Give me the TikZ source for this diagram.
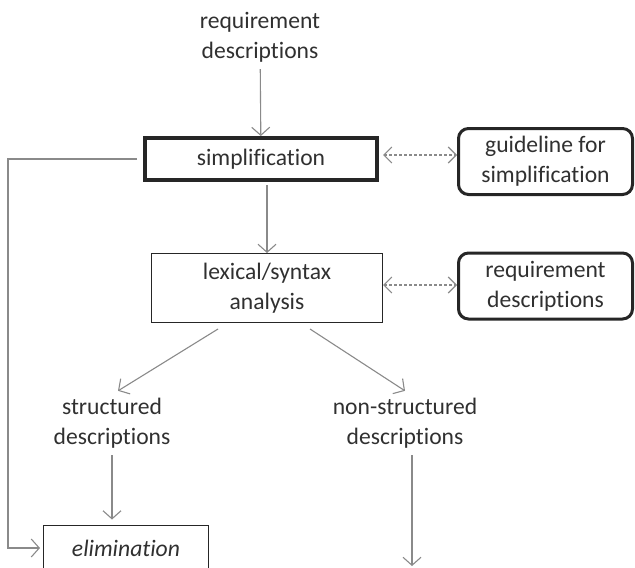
\documentclass[tikz,border=0pt]{standalone}
\usepackage{fontspec}
\setmainfont{Carlito}[Ligatures=CommonOff]
\usetikzlibrary{arrows.meta,calc}
\definecolor{txt}{HTML}{303030}
\definecolor{ln}{HTML}{8A8A8A}
\tikzset{
lbl/.style={align=center,text=txt,font=\fontsize{11.8}{15}\selectfont},
box/.style={lbl,draw=black!85,inner sep=0pt,line width=0.5pt},
rbox/.style={box,line width=1.5pt,rounded corners=5pt,minimum width=87pt,minimum height=33pt},
arr/.style={draw=ln,line width=0.55pt,-{Straight Barb[length=4pt,width=9pt]}},
dasharr/.style={arr,dash pattern=on 1.5pt off 1pt,{Straight Barb[length=4pt,width=8pt]}-{Straight Barb[length=4pt,width=8pt]}}
}
\begin{document}
\begin{tikzpicture}[x=0.5pt,y=-0.5pt]
\useasboundingbox (0,0) rectangle (635,567);
\node[lbl](req) at (260,37){requirement\\descriptions};
\node[box,line width=2pt,minimum width=116pt,minimum height=21pt](simp) at (261,159){simplification};
\node[rbox](guide) at (545.5,161.5){guideline for\\simplification};
\node[box,minimum width=115.5pt,minimum height=34.5pt](lex) at (267,288){lexical/syntax\\analysis};
\node[rbox](reqbox) at (545.5,286){requirement\\descriptions};
\node[lbl](struct) at (112,423){structured\\descriptions};
\node[lbl](nonstruct) at (405,423){non-structured\\descriptions};
\node[box,minimum width=82.5pt,minimum height=23pt,font=\fontsize{11.8}{15}\selectfont\itshape](elim) at (126,548){elimination};
\coordinate (rail) at (8,0);
\coordinate (nsend) at (412,566);
\draw[arr](req)--(simp);
\draw[arr,shorten <=1.5pt]([xshift=3pt]simp.south)--([xshift=3pt]simp.south|-lex.north);
\draw[arr]($(lex.south)+(-49,6)$)--([xshift=3pt]struct.north);
\draw[arr]($(lex.south)+(43,6)$)--(nonstruct.north);
\draw[arr](struct.south)--([yshift=2.5pt]struct.south|-elim.north);
\draw[arr]([xshift=3.5pt]nonstruct.south)--(nsend);
\draw[arr,shorten <=3pt,shorten >=1.5pt](simp.west)--(simp.west-|rail)|-(elim.west);
\draw[dasharr,shorten <=2pt]([yshift=2pt]simp.east)--([yshift=2pt]simp.east-|guide.west);
\draw[dasharr]([yshift=1.5pt]lex.east)--([yshift=1.5pt]lex.east-|reqbox.west);
\end{tikzpicture}
\end{document}
